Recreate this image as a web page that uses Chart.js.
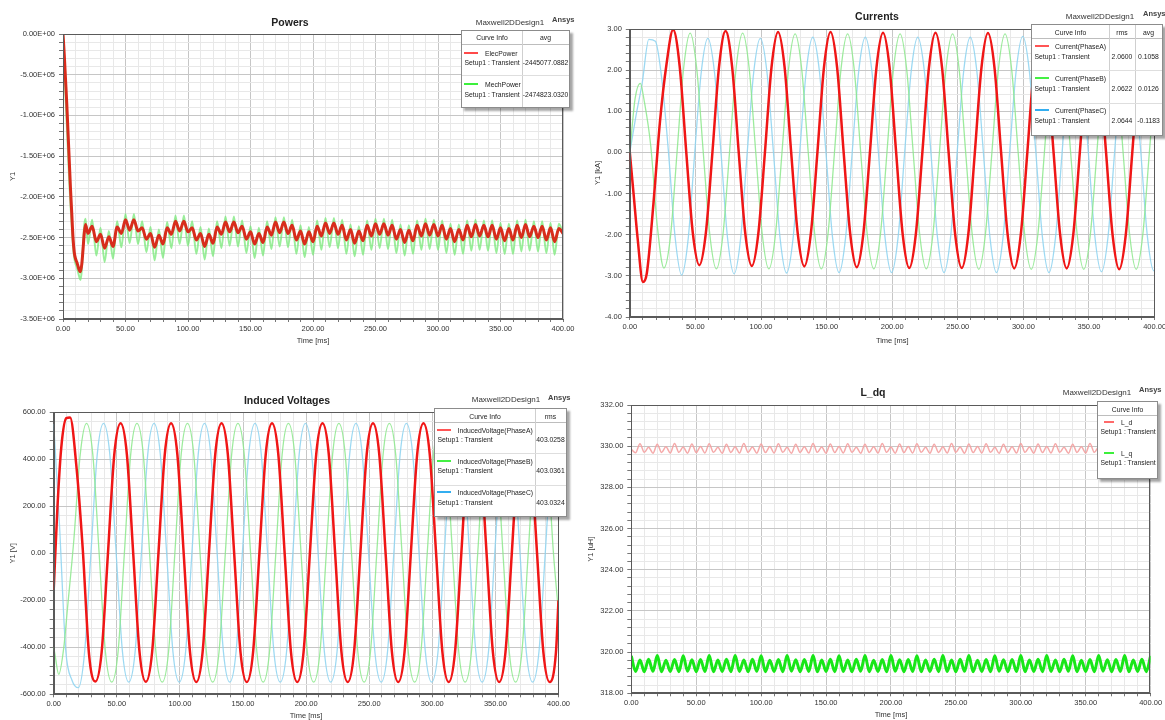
<!DOCTYPE html>
<html>
<head>
<meta charset="utf-8">
<title>Maxwell2DDesign1 transient results</title>
<script src="https://cdn.jsdelivr.net/npm/chart.js@4.4.0/dist/chart.umd.min.js"></script>
<style>
  body { margin: 0; background: #fff; }
  #page { position: relative; width: 1165px; height: 720px; overflow: hidden; background: #fff;
          font-family: "Liberation Sans", Arial, sans-serif; color: #222; }
  canvas { position: absolute; }
  .title { position: absolute; font-size: 10.5px; font-weight: bold; color: #222; white-space: nowrap; transform: translate(-50%, -50%); }
  .design { position: absolute; font-size: 8px; color: #333; white-space: nowrap; transform: translate(-50%, -50%); }
  .brand { position: absolute; font-size: 7.5px; font-weight: bold; color: #444; white-space: nowrap; transform: translateY(-50%); }
  .legend { position: absolute; background: #fff; border: 1px solid #8c8c8c; box-shadow: 3px 3px 2px rgba(0,0,0,0.35);
            font-size: 6.8px; color: #222; }
  .legend span, .legend i { position: absolute; white-space: nowrap; }
</style>
</head>
<body>
<div id="page">
  <canvas id="powers" width="582" height="352" style="left:0;top:0"></canvas>
  <canvas id="currents" width="600" height="352" style="left:583px;top:0"></canvas>
  <canvas id="voltages" width="582" height="340" style="left:0;top:385px"></canvas>
  <canvas id="ldq" width="582" height="340" style="left:583px;top:380px"></canvas>

  <div class="title" style="left:290px;top:22px">Powers</div>
  <div class="design" style="left:510px;top:22px">Maxwell2DDesign1</div>
  <div class="brand" style="left:552px;top:19px">Ansys</div>

  <div class="title" style="left:877px;top:16px">Currents</div>
  <div class="design" style="left:1100px;top:16px">Maxwell2DDesign1</div>
  <div class="brand" style="left:1143px;top:13px">Ansys</div>

  <div class="title" style="left:287px;top:400px">Induced Voltages</div>
  <div class="design" style="left:506px;top:399px">Maxwell2DDesign1</div>
  <div class="brand" style="left:548px;top:397px">Ansys</div>

  <div class="title" style="left:873px;top:392px">L_dq</div>
  <div class="design" style="left:1097px;top:392px">Maxwell2DDesign1</div>
  <div class="brand" style="left:1139px;top:389px">Ansys</div>
</div>
<script>
// ---- time grids [ms] ----
const timeMajors = [0, 50, 100, 150, 200, 250, 300, 350, 400];

const timeA = [
  0, 3, 6, 10, 13, 18, 23, 28, 33, 38,
  43, 48, 53, 58, 63, 68, 73, 78,
  83, 88, 93, 98, 103, 108, 113, 118,
  123, 128, 133, 138, 143, 148, 153, 158,
  163, 168, 173, 178, 183, 188, 193, 198,
  203, 208, 213, 218, 223, 228, 233, 238,
  243, 248, 253, 258, 263, 268, 273, 278,
  283, 288, 293, 298, 303, 308, 313, 318,
  323, 328, 333, 338, 343, 348, 353, 358,
  363, 368, 373, 378, 383, 388, 393, 398,
  400
];
const timeB = [
  0, 1, 4, 8, 11, 16, 21, 26, 31, 36,
  41, 46, 51, 56, 61, 66, 71, 76,
  81, 86, 91, 96, 101, 106, 111, 116,
  121, 126, 131, 136, 141, 146, 151, 156,
  161, 166, 171, 176, 181, 186, 191, 196,
  201, 206, 211, 216, 221, 226, 231, 236,
  241, 246, 251, 256, 261, 266, 271, 276,
  281, 286, 291, 296, 301, 306, 311, 316,
  321, 326, 331, 336, 341, 346, 351, 356,
  361, 366, 371, 376, 381, 386, 391, 396,
  400
];
const timeC = [
  0, 4.5, 9.5, 14.5, 19.5, 24.5, 29.5, 34.5,
  39.5, 44.5, 49.5, 54.5, 59.5, 64.5, 69.5, 74.5,
  79.5, 84.5, 89.5, 94.5, 99.5, 104.5, 109.5, 114.5,
  119.5, 124.5, 129.5, 134.5, 139.5, 144.5, 149.5, 154.5,
  159.5, 164.5, 169.5, 174.5, 179.5, 184.5, 189.5, 194.5,
  199.5, 204.5, 209.5, 214.5, 219.5, 224.5, 229.5, 234.5,
  239.5, 244.5, 249.5, 254.5, 259.5, 264.5, 269.5, 274.5,
  279.5, 284.5, 289.5, 294.5, 299.5, 304.5, 309.5, 314.5,
  319.5, 324.5, 329.5, 334.5, 339.5, 344.5, 349.5, 354.5,
  359.5, 364.5, 369.5, 374.5, 379.5, 384.5, 389.5, 394.5,
  399.5, 400
];
const rippleTimes = [
  0, 3.3, 6.7, 10, 13.3, 16.7, 20, 23.3, 26.7, 30, 33.3, 36.7,
  40, 43.3, 46.7, 50, 53.3, 56.7, 60, 63.3, 66.7, 70, 73.3, 76.7,
  80, 83.3, 86.7, 90, 93.3, 96.7, 100, 103.3, 106.7, 110, 113.3, 116.7,
  120, 123.3, 126.7, 130, 133.3, 136.7, 140, 143.3, 146.7, 150, 153.3, 156.7,
  160, 163.3, 166.7, 170, 173.3, 176.7, 180, 183.3, 186.7, 190, 193.3, 196.7,
  200, 203.3, 206.7, 210, 213.3, 216.7, 220, 223.3, 226.7, 230, 233.3, 236.7,
  240, 243.3, 246.7, 250, 253.3, 256.7, 260, 263.3, 266.7, 270, 273.3, 276.7,
  280, 283.3, 286.7, 290, 293.3, 296.7, 300, 303.3, 306.7, 310, 313.3, 316.7,
  320, 323.3, 326.7, 330, 333.3, 336.7, 340, 343.3, 346.7, 350, 353.3, 356.7,
  360, 363.3, 366.7, 370, 373.3, 376.7, 380, 383.3, 386.7, 390, 393.3, 396.7,
  400
];
const powerStartTimes = [0, 1, 2, 3, 4, 5, 6, 7, 8, 9, 10, 11, 12, 13, 14, 15, 16, 17, 18];

// ---- Powers [1e6 W] ----
const powerMajors = [0, -0.5, -1, -1.5, -2, -2.5, -3, -3.5];
const powerNames = ['ElecPower', 'MechPower'];
const powerAvg = ['-2445077.0882', '-2474823.0320'];
const elecPowerStart = [0, -0.25, -0.55, -0.85, -1.2, -1.55, -1.9, -2.2, -2.5, -2.68, -2.76, -2.8, -2.85, -2.9, -2.92, -2.83, -2.65, -2.45, -2.34];
const mechPowerStart = [0, -0.35, -0.75, -1.1, -1.45, -1.8, -2.1, -2.35, -2.6, -2.75, -2.82, -2.86, -2.92, -2.98, -3.02, -2.9, -2.6, -2.35, -2.27];
const elecPowerRipple = [
  -2.45, -2.36, -2.55, -2.46, -2.63, -2.49, -2.61, -2.37, -2.45, -2.28, -2.41, -2.28,
  -2.42, -2.38, -2.52, -2.45, -2.62, -2.47, -2.58, -2.38, -2.46, -2.30, -2.42, -2.30,
  -2.43, -2.38, -2.53, -2.45, -2.61, -2.46, -2.57, -2.37, -2.46, -2.31, -2.43, -2.31,
  -2.44, -2.36, -2.52, -2.43, -2.58, -2.45, -2.56, -2.37, -2.47, -2.31, -2.44, -2.31,
  -2.45, -2.35, -2.53, -2.42, -2.58, -2.43, -2.55, -2.36, -2.48, -2.32, -2.45, -2.32,
  -2.46, -2.35, -2.53, -2.40, -2.57, -2.42, -2.54, -2.35, -2.48, -2.33, -2.46, -2.33,
  -2.47, -2.35, -2.52, -2.40, -2.56, -2.41, -2.54, -2.35, -2.48, -2.33, -2.47, -2.34,
  -2.48, -2.35, -2.52, -2.39, -2.55, -2.40, -2.53, -2.35, -2.49, -2.34, -2.48, -2.35,
  -2.49, -2.35, -2.52, -2.38, -2.54, -2.39, -2.53, -2.35, -2.50, -2.34, -2.49, -2.36,
  -2.50, -2.36, -2.53, -2.38, -2.55, -2.39, -2.45
];
const mechPowerRipple = [
  -2.58, -2.28, -2.72, -2.38, -2.80, -2.42, -2.76, -2.30, -2.62, -2.21, -2.57, -2.21,
  -2.58, -2.30, -2.68, -2.37, -2.78, -2.40, -2.75, -2.31, -2.63, -2.23, -2.58, -2.23,
  -2.60, -2.30, -2.70, -2.37, -2.77, -2.39, -2.73, -2.30, -2.63, -2.24, -2.60, -2.24,
  -2.61, -2.29, -2.69, -2.36, -2.75, -2.38, -2.72, -2.30, -2.64, -2.25, -2.61, -2.25,
  -2.62, -2.28, -2.70, -2.35, -2.74, -2.37, -2.71, -2.29, -2.65, -2.26, -2.62, -2.26,
  -2.63, -2.28, -2.70, -2.34, -2.73, -2.36, -2.71, -2.29, -2.65, -2.27, -2.63, -2.27,
  -2.64, -2.28, -2.69, -2.34, -2.72, -2.35, -2.70, -2.29, -2.65, -2.27, -2.64, -2.28,
  -2.65, -2.29, -2.69, -2.33, -2.71, -2.34, -2.70, -2.29, -2.66, -2.28, -2.65, -2.29,
  -2.66, -2.29, -2.69, -2.32, -2.70, -2.33, -2.70, -2.29, -2.67, -2.28, -2.66, -2.30,
  -2.67, -2.30, -2.69, -2.32, -2.71, -2.33, -2.45
];

// ---- Currents [kA] ----
const currentMajors = [3, 2, 1, 0, -1, -2, -3, -4];
const currentNames = ['Current(PhaseA)', 'Current(PhaseB)', 'Current(PhaseC)'];
const currentRms = ['2.0600', '2.0622', '2.0644'];
const currentAvg = ['0.1058', '0.0126', '-0.1183'];
const currentA = [
  0, -1.05, -2.1, -3.15, -2.93, -1.25, 0.75, 2.15, 2.98, 2.1,
  0.02, -1.95, -2.74, -1.95, 0.01, 2.08, 2.95, 2.08,
  0.01, -1.96, -2.76, -1.96, 0, 2.07, 2.93, 2.07,
  0, -1.97, -2.77, -1.97, 0, 2.07, 2.93, 2.07,
  0, -1.98, -2.79, -1.98, -0.01, 2.06, 2.91, 2.06,
  0, -1.99, -2.81, -1.99, 0, 2.06, 2.91, 2.06,
  0, -1.99, -2.81, -1.99, 0, 2.05, 2.9, 2.05,
  0, -2, -2.82, -2, 0, 2.05, 2.9, 2.05,
  0, -2, -2.82, -2, 0, 2.05, 2.9, 2.05,
  0, -2.01, -2.84, -2.01, 0, 2.05, 2.9, 2.05,
  1.3
];
const currentB = [
  0, 0.35, 1.3, 1.68, 1.25, 0.15, -1.8, -2.81, -2.04, 0,
  2.04, 2.9, 2.04, 0, -2, -2.83, -2, 0,
  2.04, 2.9, 2.04, 0, -2, -2.83, -2, 0,
  2.03, 2.88, 2.03, 0, -2, -2.83, -2, 0,
  2.03, 2.88, 2.03, 0, -2, -2.83, -2, 0,
  2.03, 2.88, 2.03, 0, -2, -2.83, -2, 0,
  2.03, 2.88, 2.03, 0, -2, -2.84, -2, 0,
  2.03, 2.88, 2.03, 0, -2, -2.84, -2, 0,
  2.03, 2.88, 2.03, 0, -2, -2.84, -2, 0,
  2.03, 2.88, 2.03, 0, -2, -2.84, -2, 0,
  1.6
];
const currentC = [
  0, 0.85, 1.7, 2.75, 2.7, 1.75, 0, -2.05,
  -2.98, -2.1, 0, 1.96, 2.77, 1.96, 0, -2.08,
  -2.95, -2.08, 0, 1.96, 2.77, 1.96, 0, -2.07,
  -2.93, -2.07, 0, 1.98, 2.8, 1.98, 0, -2.06,
  -2.92, -2.06, 0, 1.98, 2.8, 1.98, 0, -2.06,
  -2.92, -2.06, 0, 1.98, 2.8, 1.98, 0, -2.06,
  -2.92, -2.06, 0, 1.98, 2.8, 1.98, 0, -2.06,
  -2.92, -2.06, 0, 1.99, 2.82, 1.99, 0, -2.06,
  -2.92, -2.06, 0, 1.98, 2.8, 1.98, 0, -2.05,
  -2.9, -2.05, 0, 1.98, 2.8, 1.98, 0, -2.04,
  -2.88, -2.87
];

// ---- Induced voltages [V] ----
const voltageMajors = [600, 400, 200, 0, -200, -400, -600];
const voltageNames = ['InducedVoltage(PhaseA)', 'InducedVoltage(PhaseB)', 'InducedVoltage(PhaseC)'];
const voltageRms = ['403.0258', '403.0361', '403.0324'];
const voltageA = [
  -156, 200, 450, 575, 578, 370, 20, -430, -546, -420,
  0, 420, 553, 420, 0, -420, -547, -420,
  0, 420, 553, 420, 0, -420, -548, -420,
  0, 420, 553, 420, 0, -420, -548, -420,
  0, 420, 553, 420, 0, -420, -548, -420,
  0, 420, 553, 420, 0, -420, -548, -420,
  0, 420, 553, 420, 0, -420, -548, -420,
  0, 420, 553, 420, 0, -420, -548, -420,
  0, 420, 553, 420, 0, -420, -548, -420,
  0, 420, 552, 420, 0, -420, -548, -420,
  -200
];
const voltageB = [
  -400, -430, -515, -400, -230, 60, 420, 553, 420, 0,
  -420, -548, -420, 0, 420, 553, 420, 0,
  -420, -548, -420, 0, 420, 553, 420, 0,
  -420, -548, -420, 0, 420, 553, 420, 0,
  -420, -548, -420, 0, 420, 553, 420, 0,
  -420, -548, -420, 0, 420, 553, 420, 0,
  -420, -548, -420, 0, 420, 553, 420, 0,
  -420, -548, -420, 0, 420, 553, 420, 0,
  -420, -548, -420, 0, 420, 553, 420, 0,
  -420, -548, -420, 0, 420, 553, 420, 0,
  -250
];
const voltageC = [
  550, 130, -410, -540, -572, -420, 0, 420,
  553, 420, 0, -420, -548, -420, 0, 420,
  553, 420, 0, -420, -548, -420, 0, 420,
  553, 420, 0, -420, -548, -420, 0, 420,
  553, 420, 0, -420, -548, -420, 0, 420,
  553, 420, 0, -420, -548, -420, 0, 420,
  553, 420, 0, -420, -548, -420, 0, 420,
  553, 420, 0, -420, -548, -420, 0, 420,
  553, 420, 0, -420, -548, -420, 0, 420,
  553, 420, 0, -420, -548, -420, 0, 420,
  553, 552
];

// ---- L_dq [uH] ----
const inductanceMajors = [332, 330, 328, 326, 324, 322, 320, 318];
const inductanceNames = ['L_d', 'L_q'];
const inductanceD = [
  329.85, 329.68, 330.12, 329.70, 329.95, 329.66, 330.10, 329.69, 329.97, 329.67, 330.13, 329.70,
  329.96, 329.66, 330.11, 329.69, 329.98, 329.67, 330.12, 329.70, 329.95, 329.66, 330.10, 329.69,
  329.97, 329.67, 330.13, 329.70, 329.96, 329.66, 330.11, 329.69, 329.98, 329.67, 330.12, 329.70,
  329.95, 329.66, 330.10, 329.69, 329.97, 329.67, 330.13, 329.70, 329.96, 329.66, 330.11, 329.69,
  329.98, 329.67, 330.12, 329.70, 329.95, 329.66, 330.10, 329.69, 329.97, 329.67, 330.13, 329.70,
  329.96, 329.66, 330.11, 329.69, 329.98, 329.67, 330.12, 329.70, 329.95, 329.66, 330.10, 329.69,
  329.97, 329.67, 330.13, 329.70, 329.96, 329.66, 330.11, 329.69, 329.98, 329.67, 330.12, 329.70,
  329.95, 329.66, 330.10, 329.69, 329.97, 329.67, 330.13, 329.70, 329.96, 329.66, 330.11, 329.69,
  329.98, 329.67, 330.12, 329.70, 329.95, 329.66, 330.10, 329.69, 329.97, 329.67, 330.13, 329.70,
  329.96, 329.66, 330.11, 329.69, 329.98, 329.67, 330.12, 329.70, 329.95, 329.66, 330.10, 329.69,
  329.92
];
const inductanceQ = [
  319.82, 319.06, 319.62, 319.05, 319.65, 319.07, 319.83, 319.05, 319.61, 319.06, 319.64, 319.05,
  319.82, 319.07, 319.63, 319.05, 319.64, 319.06, 319.84, 319.05, 319.62, 319.06, 319.65, 319.05,
  319.83, 319.06, 319.62, 319.05, 319.65, 319.07, 319.82, 319.05, 319.61, 319.06, 319.64, 319.05,
  319.84, 319.07, 319.63, 319.05, 319.64, 319.06, 319.83, 319.05, 319.62, 319.06, 319.65, 319.05,
  319.82, 319.06, 319.62, 319.05, 319.65, 319.07, 319.84, 319.05, 319.61, 319.06, 319.64, 319.05,
  319.83, 319.07, 319.63, 319.05, 319.64, 319.06, 319.82, 319.05, 319.62, 319.06, 319.65, 319.05,
  319.84, 319.06, 319.62, 319.05, 319.65, 319.07, 319.83, 319.05, 319.61, 319.06, 319.64, 319.05,
  319.82, 319.07, 319.63, 319.05, 319.64, 319.06, 319.84, 319.05, 319.62, 319.06, 319.65, 319.05,
  319.83, 319.06, 319.62, 319.05, 319.65, 319.07, 319.82, 319.05, 319.61, 319.06, 319.64, 319.05,
  319.84, 319.07, 319.63, 319.05, 319.64, 319.06, 319.83, 319.05, 319.62, 319.06, 319.65, 319.05,
  319.82
];

// ---- chart helpers ----
Chart.defaults.font.family = '"Liberation Sans", Arial, sans-serif';
Chart.defaults.font.size = 7.5;
Chart.defaults.color = '#333';

const MAJOR = '#c6c6c6';
const MINOR = '#e8e8e8';
const onList = (v, list) => list.some(m => Math.abs(m - v) < 1e-6);
const sci = v => {
  const [m, e] = v.toExponential(2).split('e');
  return m + 'E' + (e[0] === '-' ? '-' : '+') + String(Math.abs(+e)).padStart(2, '0');
};
const xy = (t, v) => t.map((x, i) => ({ x, y: v[i] }));
const series = (t, v, color, width) => ({
  data: xy(t, v), borderColor: color, borderWidth: width,
  pointRadius: 0, fill: false, cubicInterpolationMode: 'monotone'
});

// plot frame on all four sides
const frame = {
  id: 'frame',
  afterDatasetsDraw(chart) {
    const { ctx, chartArea: a } = chart;
    ctx.save();
    ctx.strokeStyle = '#5a5a5a';
    ctx.lineWidth = 1;
    ctx.strokeRect(Math.round(a.left) + 0.5, Math.round(a.top) + 0.5, Math.round(a.width) - 1, Math.round(a.height) - 1);
    ctx.restore();
  }
};

function timeAxis(height, titlePad) {
  return {
    type: 'linear', min: 0, max: 400,
    afterFit: s => { s.height = height; },
    ticks: { stepSize: 10, autoSkip: false, maxRotation: 0, padding: 2,
             callback: v => onList(v, timeMajors) ? v.toFixed(2) : '' },
    grid: { color: c => onList(c.tick.value, timeMajors) ? MAJOR : MINOR, tickLength: 3, tickColor: '#777' },
    border: { color: '#5a5a5a' },
    title: { display: true, text: 'Time [ms]', padding: { top: 0, bottom: titlePad } }
  };
}

function valueAxis(o) {
  return {
    type: 'linear', min: o.min, max: o.max,
    afterFit: s => { s.width = o.width; },
    ticks: { stepSize: o.step, autoSkip: false, padding: 4,
             callback: v => onList(v, o.majors) ? o.format(v) : '' },
    grid: { color: c => onList(c.tick.value, o.majors) ? MAJOR : MINOR, tickLength: 4, tickColor: '#777' },
    border: { color: '#5a5a5a' },
    title: { display: true, text: o.title, padding: { top: o.titlePad, bottom: 0 } }
  };
}

function drawPanel(id, datasets, pad, xHeight, xTitlePad, y) {
  new Chart(document.getElementById(id), {
    type: 'line',
    data: { datasets },
    options: {
      responsive: false, animation: false, events: [],
      layout: { padding: pad },
      plugins: { legend: { display: false }, tooltip: { enabled: false } },
      scales: { x: timeAxis(xHeight, xTitlePad), y: valueAxis(y) }
    },
    plugins: [frame]
  });
}

function legend(spec) {
  const box = document.createElement('div');
  box.className = 'legend';
  box.style.cssText = `left:${spec.x}px;top:${spec.y}px;width:${spec.w}px;height:${spec.h}px`;
  const put = (text, x, y, center) => {
    const s = document.createElement('span');
    s.textContent = text;
    s.style.left = x + 'px';
    s.style.top = y + 'px';
    s.style.transform = center ? 'translate(-50%,-50%)' : 'translateY(-50%)';
    box.appendChild(s);
  };
  const rule = (x, y, w, h, color) => {
    const d = document.createElement('i');
    d.style.cssText = `left:${x}px;top:${y}px;width:${w}px;height:${h}px;background:${color}`;
    box.appendChild(d);
  };
  spec.heads.forEach((h, j) => put(h, (spec.cols[j] + spec.cols[j + 1]) / 2, spec.headH / 2, true));
  rule(0, spec.headH, spec.w, 1, '#bdbdbd');
  spec.cols.slice(1, -1).forEach(c => rule(c, 0, 1, spec.h, '#cfcfcf'));
  spec.names.forEach((name, i) => {
    const top = spec.headH + i * spec.rowH;
    if (i > 0 && spec.rowLines) rule(0, top, spec.w, 1, '#dedede');
    rule(spec.swatch[0], top + spec.nameY - 1, spec.swatch[1], 2, spec.colors[i]);
    put(name, spec.nameX, top + spec.nameY);
    put('Setup1 : Transient', 2.5, top + spec.setupY);
    (spec.values[i] || []).forEach((v, j) => put(v, (spec.cols[j + 1] + spec.cols[j + 2]) / 2, top + spec.setupY, true));
  });
  document.getElementById('page').appendChild(box);
}

// ---- Powers ----
drawPanel('powers', [
  series(powerStartTimes.concat(rippleTimes.slice(6)), elecPowerStart.concat(elecPowerRipple), 'rgb(216,44,28)', 3),
  series(powerStartTimes.concat(rippleTimes.slice(6)), mechPowerStart.concat(mechPowerRipple), 'rgba(120,232,120,0.75)', 2)
], { left: 0, top: 34, right: 19, bottom: 3 }, 30, 3.5,
{ min: -3.5, max: 0, step: 0.1, majors: powerMajors, format: v => sci(v * 1e6), title: 'Y1', width: 63, titlePad: 8.5 });

// ---- Currents ----
drawPanel('currents', [
  series(timeA, currentA, 'rgb(240,22,22)', 2.5),
  series(timeB, currentB, 'rgba(140,232,140,0.85)', 1.3),
  series(timeC, currentC, 'rgba(140,210,240,0.85)', 1.3)
], { left: 0, top: 29, right: 28.4, bottom: 5 }, 30, 1.5,
{ min: -4, max: 3, step: 0.2, majors: currentMajors, format: v => v.toFixed(2), title: 'Y1 [kA]', width: 46.8, titlePad: 10.5 });

// ---- Induced voltages ----
drawPanel('voltages', [
  series(timeA, voltageA, 'rgb(240,22,22)', 2.5),
  series(timeB, voltageB, 'rgba(140,232,140,0.85)', 1.3),
  series(timeC, voltageC, 'rgba(140,210,240,0.85)', 1.3)
], { left: 0, top: 27.3, right: 23.5, bottom: 0.7 }, 30, 3.8,
{ min: -600, max: 600, step: 40, majors: voltageMajors, format: v => v.toFixed(2), title: 'Y1 [V]', width: 53.7, titlePad: 8.5 });

// ---- L_dq ----
drawPanel('ldq', [
  series(rippleTimes, inductanceD, 'rgba(244,160,160,0.9)', 1.5),
  series(rippleTimes, inductanceQ, 'rgb(24,230,24)', 3)
], { left: 0, top: 25, right: 14.4, bottom: 0.7 }, 26, 0,
{ min: 318, max: 332, step: 0.4, majors: inductanceMajors, format: v => v.toFixed(2), title: 'Y1 [uH]', width: 48.3, titlePad: 3.5 });

// ---- curve info boxes ----
legend({ x: 461, y: 30, w: 107, h: 76, cols: [0, 60, 107], heads: ['Curve Info', 'avg'], headH: 12.5, rowH: 31.5,
  nameX: 23, nameY: 9, setupY: 18.5, swatch: [2, 14], rowLines: true,
  names: powerNames, colors: ['#ff4a4a', '#3cf03c'], values: powerAvg.map(v => [v]) });
legend({ x: 1031, y: 24, w: 130, h: 110, cols: [0, 77, 103, 130], heads: ['Curve Info', 'rms', 'avg'], headH: 13, rowH: 32.3,
  nameX: 23, nameY: 7.7, setupY: 17.7, swatch: [3, 14], rowLines: true,
  names: currentNames, colors: ['#ff5555', '#44f044', '#33aef0'], values: currentRms.map((r, i) => [r, currentAvg[i]]) });
legend({ x: 434, y: 408, w: 131, h: 107, cols: [0, 100, 131], heads: ['Curve Info', 'rms'], headH: 13, rowH: 31.3,
  nameX: 22.5, nameY: 7.5, setupY: 17, swatch: [2, 14], rowLines: true,
  names: voltageNames, colors: ['#ff5555', '#44f044', '#33aef0'], values: voltageRms.map(v => [v]) });
legend({ x: 1097, y: 401, w: 59, h: 76, cols: [0, 59], heads: ['Curve Info'], headH: 13, rowH: 31,
  nameX: 23, nameY: 7, setupY: 15.5, swatch: [6, 10], rowLines: false,
  names: inductanceNames, colors: ['#ff6a6a', '#3cf03c'], values: [] });
</script>
</body>
</html>
